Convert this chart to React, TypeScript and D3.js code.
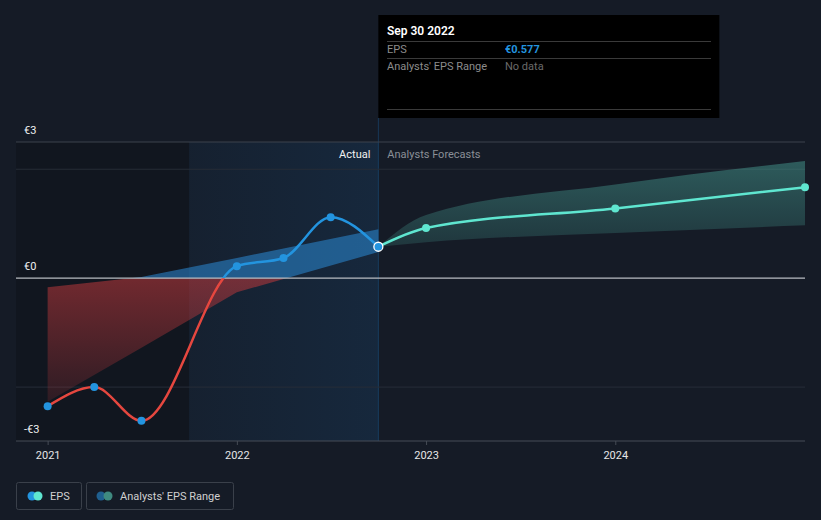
import React from "react";
import * as d3 from "d3";

const W = 821;
const H = 520;

const epsDates = ["2020-12-31", "2021-03-31", "2021-06-30", "2021-12-31", "2022-03-31", "2022-06-30", "2022-09-30"];
const epsValues = [-2.35, -2.0, -2.62, 0.22, 0.37, 1.12, 0.577];

const fcDates = ["2022-09-30", "2022-12-31", "2023-12-31", "2024-12-31"];
const fcValues = [0.577, 0.92, 1.28, 1.67];
const fcHigh = [0.577, 1.16, 1.72, 2.15];
const fcLow = [0.577, 0.66, 0.83, 0.97];

const pastRangeDates = ["2020-12-31", "2021-06-30", "2021-12-31", "2022-09-30"];
const pastRangeHigh = [-0.165, 0.02, 0.37, 0.9];
const pastRangeLow = [-2.27, -1.28, -0.26, 0.48];

const xTicks = ["2021", "2022", "2023", "2024"];
const yLabels = [
  { label: "€3", value: 2.5 },
  { label: "€0", value: 0 },
  { label: "-€3", value: -2.99 },
];

const pd = (s: string) => new Date(s + "T00:00:00");

export default function App() {
  const x = d3
    .scaleTime()
    .domain([pd("2020-10-31"), pd("2024-12-31")])
    .range([16, 805]);
  const y = d3.scaleLinear().domain([-2.99, 2.5]).range([441, 142]);

  const eps = epsDates.map((d, i) => ({ d: pd(d), v: epsValues[i] }));
  const fc = fcDates.map((d, i) => ({ d: pd(d), v: fcValues[i], hi: fcHigh[i], lo: fcLow[i] }));
  const pr = pastRangeDates.map((d, i) => ({ d: pd(d), hi: pastRangeHigh[i], lo: pastRangeLow[i] }));

  const line = d3
    .line<{ d: Date; v: number }>()
    .x((p) => x(p.d))
    .y((p) => y(p.v))
    .curve(d3.curveMonotoneX);

  const fcArea = d3
    .area<{ d: Date; hi: number; lo: number }>()
    .x((p) => x(p.d))
    .y0((p) => y(p.lo))
    .y1((p) => y(p.hi))
    .curve(d3.curveMonotoneX);

  const prArea = d3
    .area<{ d: Date; hi: number; lo: number }>()
    .x((p) => x(p.d))
    .y0((p) => y(p.lo))
    .y1((p) => y(p.hi))
    .curve(d3.curveLinear);

  const y0 = y(0);
  const xNow = x(pd("2022-09-30"));
  const xYearAgo = x(pd("2021-09-30"));
  const left = 16;
  const right = 805;

  const gridVals = [2.5, 2, -2];

  const font = "Roboto, 'Noto Sans', sans-serif";

  return (
    <svg
      width={W}
      height={H}
      style={{ position: "absolute", left: 0, top: 0, background: "#151b26", fontFamily: font }}
    >
      <defs>
        <clipPath id="above">
          <rect x={0} y={0} width={W} height={y0} />
        </clipPath>
        <clipPath id="below">
          <rect x={0} y={y0} width={W} height={H - y0} />
        </clipPath>
        <linearGradient id="redGrad" x1="0" y1={y0} x2="0" y2={y(-2.35)} gradientUnits="userSpaceOnUse">
          <stop offset="0" stopColor="#c0393c" stopOpacity={0.55} />
          <stop offset="1" stopColor="#c0393c" stopOpacity={0.15} />
        </linearGradient>
        <linearGradient id="hlGrad" x1="0" y1="0" x2="1" y2="0">
          <stop offset="0" stopColor="#1e78c8" stopOpacity={0.06} />
          <stop offset="1" stopColor="#1e78c8" stopOpacity={0.14} />
        </linearGradient>
        <linearGradient id="fcGrad" x1="0" y1={y(2.15)} x2="0" y2={y(0.577)} gradientUnits="userSpaceOnUse">
          <stop offset="0" stopColor="#4fb3a5" stopOpacity={0.42} />
          <stop offset="1" stopColor="#4fb3a5" stopOpacity={0.18} />
        </linearGradient>
      </defs>

      {/* shaded past regions */}
      <rect x={left} y={142} width={xYearAgo - left} height={441 - 142} fill="#000" opacity={0.18} />
      <rect x={xYearAgo} y={142} width={xNow - xYearAgo} height={441 - 142} fill="url(#hlGrad)" />
      <line x1={xNow} x2={xNow} y1={118} y2={441} stroke="#1e6fb5" strokeOpacity={0.35} />

      {/* grid */}
      {gridVals.map((v, i) => (
        <line
          key={v}
          x1={left}
          x2={right}
          y1={y(v)}
          y2={y(v)}
          stroke={i === 0 ? "#3d434d" : "#272d37"}
          strokeWidth={1}
        />
      ))}

      {/* past range band */}
      <path d={prArea(pr) || ""} fill="#2c8ad6" fillOpacity={0.55} clipPath="url(#above)" />
      <path d={prArea(pr) || ""} fill="url(#redGrad)" clipPath="url(#below)" />

      {/* forecast band */}
      <path d={fcArea(fc) || ""} fill="url(#fcGrad)" />

      {/* zero line */}
      <line x1={left} x2={right} y1={y0} y2={y0} stroke="#b8bcc2" strokeWidth={1.3} />
      {/* bottom axis */}
      <line x1={left} x2={right} y1={441} y2={441} stroke="#464c56" strokeWidth={1} />
      {xTicks.map((t) => (
        <g key={t} transform={`translate(${x(pd(t + "-01-01"))},441)`}>
          <line y1={0} y2={4} stroke="#464c56" />
          <text y={18} textAnchor="middle" fill="#e6e6e6" fontSize={11}>
            {t}
          </text>
        </g>
      ))}

      {/* EPS line */}
      <path d={line(eps) || ""} fill="none" stroke="#2394df" strokeWidth={2.5} clipPath="url(#above)" />
      <path d={line(eps) || ""} fill="none" stroke="#e5473f" strokeWidth={2.5} clipPath="url(#below)" />
      <path d={line(fc) || ""} fill="none" stroke="#5fe6d0" strokeWidth={2.5} />

      {eps.slice(0, -1).map((p, i) => (
        <circle key={i} cx={x(p.d)} cy={y(p.v)} r={4} fill="#2394df" />
      ))}
      {fc.slice(1).map((p, i) => (
        <circle key={i} cx={x(p.d)} cy={y(p.v)} r={4} fill="#5fe6d0" />
      ))}
      <circle cx={xNow} cy={y(0.577)} r={4.5} fill="#2394df" stroke="#ffffff" strokeWidth={1.3} />

      {/* y labels */}
      {yLabels.map((l) => (
        <text key={l.label} x={24} y={y(l.value) - 8} fill="#f0f0f0" fontSize={11}>
          {l.label}
        </text>
      ))}

      <text x={xNow - 8} y={158} textAnchor="end" fill="#f2f2f2" fontSize={11}>
        Actual
      </text>
      <text x={xNow + 9} y={158} fill="#8a8f96" fontSize={11}>
        Analysts Forecasts
      </text>

      {/* tooltip */}
      <rect x={xNow} y={15} width={341} height={103} fill="#000" />
      <text x={387} y={35} fill="#fff" fontSize={12} fontWeight={600}>
        Sep 30 2022
      </text>
      <line x1={387} x2={711} y1={41.5} y2={41.5} stroke="#3a3a3a" />
      <text x={387} y={53} fill="#8c8c8c" fontSize={11}>
        EPS
      </text>
      <text x={505} y={53} fill="#2394df" fontSize={11} fontWeight={700}>
        €0.577
      </text>
      <line x1={387} x2={711} y1={58.5} y2={58.5} stroke="#3a3a3a" />
      <text x={387} y={70} fill="#8c8c8c" fontSize={11}>
        Analysts' EPS Range
      </text>
      <text x={505} y={70} fill="#6a6a6a" fontSize={11}>
        No data
      </text>
      <line x1={387} x2={711} y1={109.5} y2={109.5} stroke="#3a3a3a" />

      {/* legend */}
      <rect x={16.5} y={482.5} width={65} height={27} rx={2} fill="none" stroke="#3a404a" />
      <circle cx={32} cy={496} r={4.5} fill="#2394df" />
      <circle cx={38} cy={496} r={4.5} fill="#5fe6d0" />
      <text x={50} y={500} fill="#d0d0d0" fontSize={11}>
        EPS
      </text>
      <rect x={86.5} y={482.5} width={147} height={27} rx={2} fill="none" stroke="#3a404a" />
      <circle cx={101} cy={496} r={4.5} fill="#1f5f8f" />
      <circle cx={108} cy={496} r={4.5} fill="#3f8a80" />
      <text x={120} y={500} fill="#d0d0d0" fontSize={11}>
        Analysts' EPS Range
      </text>
    </svg>
  );
}
